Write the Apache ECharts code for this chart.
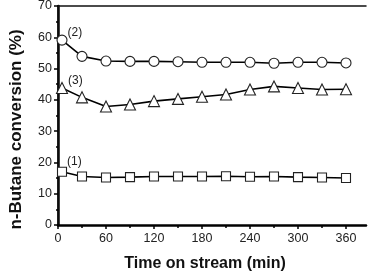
<!DOCTYPE html>
<html lang="en">
<head>
  <meta charset="UTF-8">
  <title>n-Butane conversion</title>
  <script src="https://cdn.jsdelivr.net/npm/echarts@6/dist/echarts.min.js"></script>
  <style>
    html, body { margin: 0; padding: 0; background: #fff; }
  </style>
</head>
<body>
<div id="main" style="width: 375px;height:272px;"></div>
<script>
  // time on stream (min)
  var times = [5, 30, 60, 90, 120, 150, 180, 210, 240, 270, 300, 330, 360];
  // (1) squares
  var conv1 = [17.0, 15.5, 15.2, 15.3, 15.5, 15.5, 15.5, 15.6, 15.4, 15.5, 15.3, 15.2, 15.0];
  // (2) circles
  var conv2 = [59.1, 53.9, 52.4, 52.3, 52.3, 52.2, 52.0, 52.0, 52.0, 51.7, 52.0, 52.0, 51.8];
  // (3) triangles
  var conv3 = [43.8, 40.8, 37.9, 38.5, 39.6, 40.3, 41.0, 41.7, 43.3, 44.3, 43.8, 43.3, 43.4];
  var xTicks = [0, 60, 120, 180, 240, 300, 360];
  var xMinorTicks = [30, 90, 150, 210, 270, 330];

  var myChart = echarts.init(document.getElementById('main'));
  var font = 'Liberation Sans, Arial, sans-serif';

  function pts(ys) {
    return ys.map(function (y, i) { return [times[i], y]; });
  }

  function makeSeries(name, ys, symbol, size, labelOffset) {
    return {
      name: name,
      type: 'line',
      data: pts(ys),
      symbol: symbol,
      symbolSize: size,
      showAllSymbol: true,
      lineStyle: { color: '#000', width: 1.6 },
      itemStyle: { color: '#fff', borderColor: '#222', borderWidth: 1.1 },
      label: {
        show: true,
        position: 'right',
        distance: 0,
        offset: labelOffset,
        fontFamily: font,
        fontSize: 12,
        color: '#222',
        formatter: function (p) { return p.dataIndex === 0 ? name : ''; }
      },
      emphasis: { disabled: true },
      z: 3
    };
  }

  var nameStyle = { fontFamily: font, fontWeight: 'bold', color: '#111' };

  myChart.setOption({
    animation: false,
    backgroundColor: '#fff',
    grid: { left: 58, right: 9, top: 6, bottom: 47, outerBoundsMode: 'none', containLabel: false },
    xAxis: [{
      type: 'value',
      min: 0, max: 385,
      name: 'Time on stream (min)',
      nameLocation: 'middle',
      nameGap: 31,
      nameTextStyle: Object.assign({ fontSize: 16, padding: [0, 14, 0, 0] }, nameStyle),
      axisLine: { lineStyle: { color: '#000', width: 2.5 } },
      axisTick: { show: true, length: 4, customValues: xTicks, lineStyle: { color: '#000', width: 1.5 } },
      axisLabel: { customValues: xTicks, fontFamily: font, fontSize: 12.5, color: '#222', margin: 7 },
      splitLine: { show: false }
    }, {
      type: 'value',
      min: 0, max: 385,
      position: 'bottom',
      axisLine: { show: false },
      axisTick: { show: true, length: 3, customValues: xMinorTicks, lineStyle: { color: '#000', width: 1.5 } },
      axisLabel: { show: false },
      splitLine: { show: false }
    }, {
      // top frame line
      type: 'value',
      min: 0, max: 385,
      position: 'top',
      axisLine: { show: true, lineStyle: { color: '#111', width: 1.5 } },
      axisTick: { show: false },
      axisLabel: { show: false },
      splitLine: { show: false }
    }],
    yAxis: [{
      type: 'value',
      min: 0, max: 70, interval: 10,
      name: 'n-Butane conversion (%)',
      nameLocation: 'middle',
      nameGap: 33,
      nameTextStyle: Object.assign({ fontSize: 17, padding: [0, 28, 0, 0] }, nameStyle),
      axisLine: { show: true, lineStyle: { color: '#000', width: 2.5 } },
      axisTick: { show: true, length: 4, lineStyle: { color: '#000', width: 1.5 } },
      minorTick: { show: true, splitNumber: 2, length: 2, lineStyle: { color: '#000', width: 1.5 } },
      axisLabel: { fontFamily: font, fontSize: 12.5, color: '#222', margin: 6 },
      splitLine: { show: false }
    }, {
      // right frame line
      type: 'value',
      min: 0, max: 70,
      position: 'right',
      axisLine: { show: true, lineStyle: { color: '#111', width: 1.5 } },
      axisTick: { show: false },
      axisLabel: { show: false },
      splitLine: { show: false }
    }],
    series: [
      makeSeries('(1)', conv1, 'rect', 9, [0, -10]),
      makeSeries('(2)', conv2, 'circle', 10, [0, -7]),
      makeSeries('(3)', conv3, 'triangle', 11, [0, -7])
    ]
  });
</script>
</body>
</html>
